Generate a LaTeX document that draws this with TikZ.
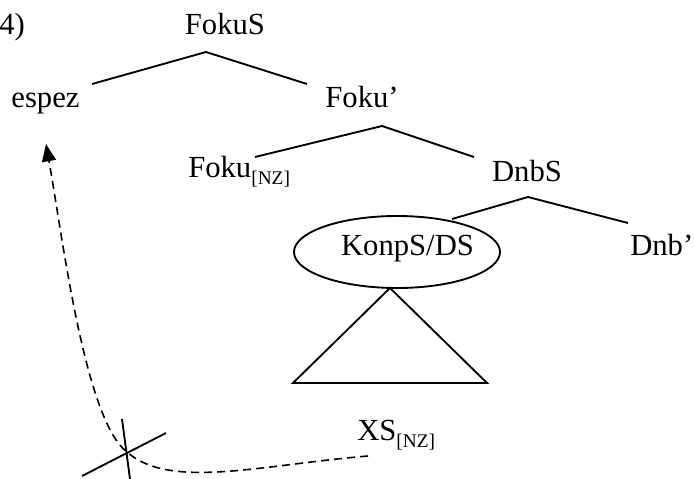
\documentclass[tikz,border=0pt]{standalone}
\usepackage{fontspec}
\setmainfont{Liberation Serif}
\usetikzlibrary{shapes.geometric,arrows.meta}
\newcommand{\nzsub}{\raisebox{-5.5pt}{\fontsize{14.5}{16}\selectfont[NZ]}}
\begin{document}
\begin{tikzpicture}[x=0.75pt,y=-0.75pt,
  lbl/.style={inner sep=0pt,anchor=base,font=\fontsize{23}{26}\selectfont},
  branch/.style={line width=1.4pt},
  move/.style={line width=1.2pt,dash pattern=on 6pt off 3.8pt,-{Triangle[length=13pt,width=10.5pt]}},
  strike/.style={line width=1.4pt}]
\useasboundingbox (0,0) rectangle (694,479);
% labels
\node[lbl,anchor=base west] (num) at (-1,34) {4)};
\node[lbl] (fokuS) at (225,34) {FokuS};
\node[lbl] (espez) at (45.5,107) {espez};
\node[lbl] (fokuP) at (362,107) {Foku’};
\node[lbl,anchor=base west] (fokuH) at (188,177) {Foku\nzsub};
\node[lbl] (dnbS) at (527,181) {DnbS};
\node[draw,ellipse,line width=1.4pt,minimum width=154.5pt,minimum height=54pt,inner sep=0pt] (ell) at (397,252) {};
\node[lbl] (konp) at (407.5,255) {KonpS/DS};
\node[lbl,anchor=base west] (dnbP) at (630,255) {Dnb’};
\node[lbl,anchor=base west] (xs) at (357,440) {XS\nzsub};
% branch points
\coordinate (a1) at (206,52);
\coordinate (l1) at (92,84);
\coordinate (r1) at (307,84);
\coordinate (a2) at (382,126);
\coordinate (l2) at (255,157);
\coordinate (r2) at (474,157);
\coordinate (a3) at (528,197);
\coordinate (l3) at (452,219);
\coordinate (r3) at (628,223);
\coordinate (t1) at (390,288);
\coordinate (t2) at (293,383);
\coordinate (t3) at (487,383);
\draw[branch] (l1) -- (a1) -- (r1);
\draw[branch] (l2) -- (a2) -- (r2);
\draw[branch] (l3) -- (a3) -- (r3);
\draw[branch,line join=miter] (t1) -- (t2) -- (t3) -- cycle;
% movement
\coordinate (mstart) at (368,456);
\coordinate (mx) at (127,452);
\coordinate (mend) at (46,144);
\draw[move] (mstart) .. controls (260,465) and (170,490) .. (mx)
   .. controls (85,420) and (63,240) .. (mend);
% cross
\coordinate (c1) at (122,419);
\coordinate (c2) at (130,479);
\coordinate (c3) at (82,476);
\coordinate (c4) at (166,433);
\draw[strike] (c1) -- (c2);
\draw[strike] (c3) -- (c4);
\end{tikzpicture}
\end{document}
